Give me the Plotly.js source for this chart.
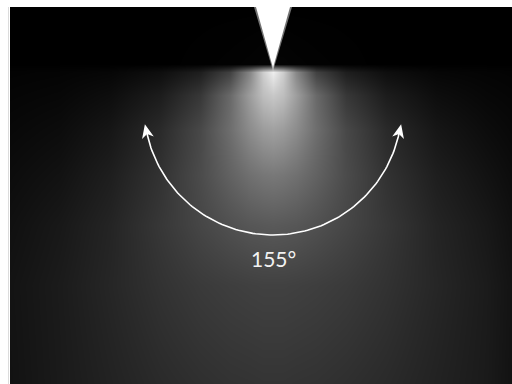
<!DOCTYPE html>
<html><head><meta charset="utf-8">
<script src="https://cdn.plot.ly/plotly-3.0.1.min.js"></script>
<style>html,body{margin:0;padding:0;background:#fff;}#chart{width:512px;height:384px;}</style>
</head><body><div id="chart"></div>
<script>
// Beam spread angle (degrees) and its label
const spreadAngle = [155];
const angleLabels = ['155°'];

// Brightness of the light glow (0-255) on a coarse grid
const glowX = [10, 60, 110, 160, 200, 230, 250, 263, 273, 283, 296, 316, 346, 386, 436, 486, 512];
const glowY = [7, 64, 72, 95, 130, 175, 225, 285, 384];
const glowZ = [
  [0,0,0,0,0,0,0,0,0,0,0,0,0,0,0,0,0],
  [0,0,0,0,1,2,3,4,4,4,3,2,1,0,0,0,0],
  [3,4,6,14,30,65,135,205,238,205,135,65,30,14,6,4,3],
  [5,7,13,28,55,105,158,190,200,190,158,105,55,28,13,7,5],
  [8,12,22,42,72,110,140,155,160,155,140,110,72,42,22,12,8],
  [12,18,30,50,75,98,112,118,120,118,112,98,75,50,30,18,12],
  [16,24,36,55,70,80,86,88,89,88,86,80,70,55,36,24,16],
  [19,27,38,50,58,62,64,65,65,65,64,62,58,50,38,27,19],
  [18,26,34,42,47,50,51,52,52,52,51,50,47,42,34,26,18]
];

// geometry (layout)
const cx = 273, cy = 106, r = 129;
const half = spreadAngle[0] / 2 * Math.PI / 180;
const arcX = [], arcY = [];
const N = 120;
for (let i = 0; i <= N; i++) {
  const a = -half + (2 * half) * i / N;
  arcX.push(cx + r * Math.sin(a));
  arcY.push(cy + r * Math.cos(a));
}
// arrowheads along the tangent at each end
function head(end, d) {
  const n = {x: -d.y, y: d.x};
  const T = {x: end.x + d.x * 10, y: end.y + d.y * 10};
  const W = {x: T.x - d.x * 14, y: T.y - d.y * 14};
  const K = {x: T.x - d.x * 10, y: T.y - d.y * 10};
  return {
    type: 'scatter', mode: 'lines', fill: 'toself', fillcolor: '#ffffff',
    line: {width: 0, color: '#ffffff'}, hoverinfo: 'skip', showlegend: false,
    x: [T.x, W.x + n.x * 6, K.x, W.x - n.x * 6, T.x],
    y: [T.y, W.y + n.y * 6, K.y, W.y - n.y * 6, T.y]
  };
}
const leftEnd = {x: arcX[0], y: arcY[0]};
const rightEnd = {x: arcX[N], y: arcY[N]};
const dl = {x: -Math.cos(half), y: -Math.sin(half)};
const dr = {x: Math.cos(half), y: -Math.sin(half)};

const traces = [
  {
    type: 'heatmap', x: glowX, y: glowY, z: glowZ,
    zmin: 0, zmax: 255, zsmooth: 'best', showscale: false, hoverinfo: 'skip',
    colorscale: [[0, 'rgb(0,0,0)'], [1, 'rgb(255,255,255)']]
  },
  {
    type: 'scatter', mode: 'lines', x: arcX, y: arcY,
    line: {color: '#ffffff', width: 1.6}, hoverinfo: 'skip', showlegend: false
  },
  head(leftEnd, dl),
  head(rightEnd, dr)
];

const layout = {
  width: 512, height: 384,
  margin: {l: 10, r: 0, t: 7, b: 0, pad: 0},
  paper_bgcolor: '#ffffff', plot_bgcolor: '#000000',
  showlegend: false,
  xaxis: {range: [10, 512], visible: false, fixedrange: true},
  yaxis: {range: [384, 7], visible: false, fixedrange: true},
  shapes: [
    {type: 'path', xref: 'x', yref: 'y', path: 'M254,7 L292,7 L273,71 Z', fillcolor: 'rgba(255,255,255,0.45)', line: {width: 0}},
    {type: 'path', xref: 'x', yref: 'y', path: 'M256,7 L290,7 L273,68 Z', fillcolor: '#ffffff', line: {width: 0}},
    {type: 'line', xref: 'paper', yref: 'paper', x0: -1.5/502, x1: -1.5/502, y0: 0, y1: 1, line: {color: '#dcdcdc', width: 1}}
  ],
  annotations: [
    {
      x: cx, y: 258, xref: 'x', yref: 'y', text: angleLabels[0], showarrow: false,
      font: {family: 'Lato, "Open Sans", sans-serif', size: 21, color: '#f2f2f2'},
      xanchor: 'center', yanchor: 'middle'
    }
  ]
};

Plotly.newPlot('chart', traces, layout, {staticPlot: true, displayModeBar: false});
</script>
</body></html>
